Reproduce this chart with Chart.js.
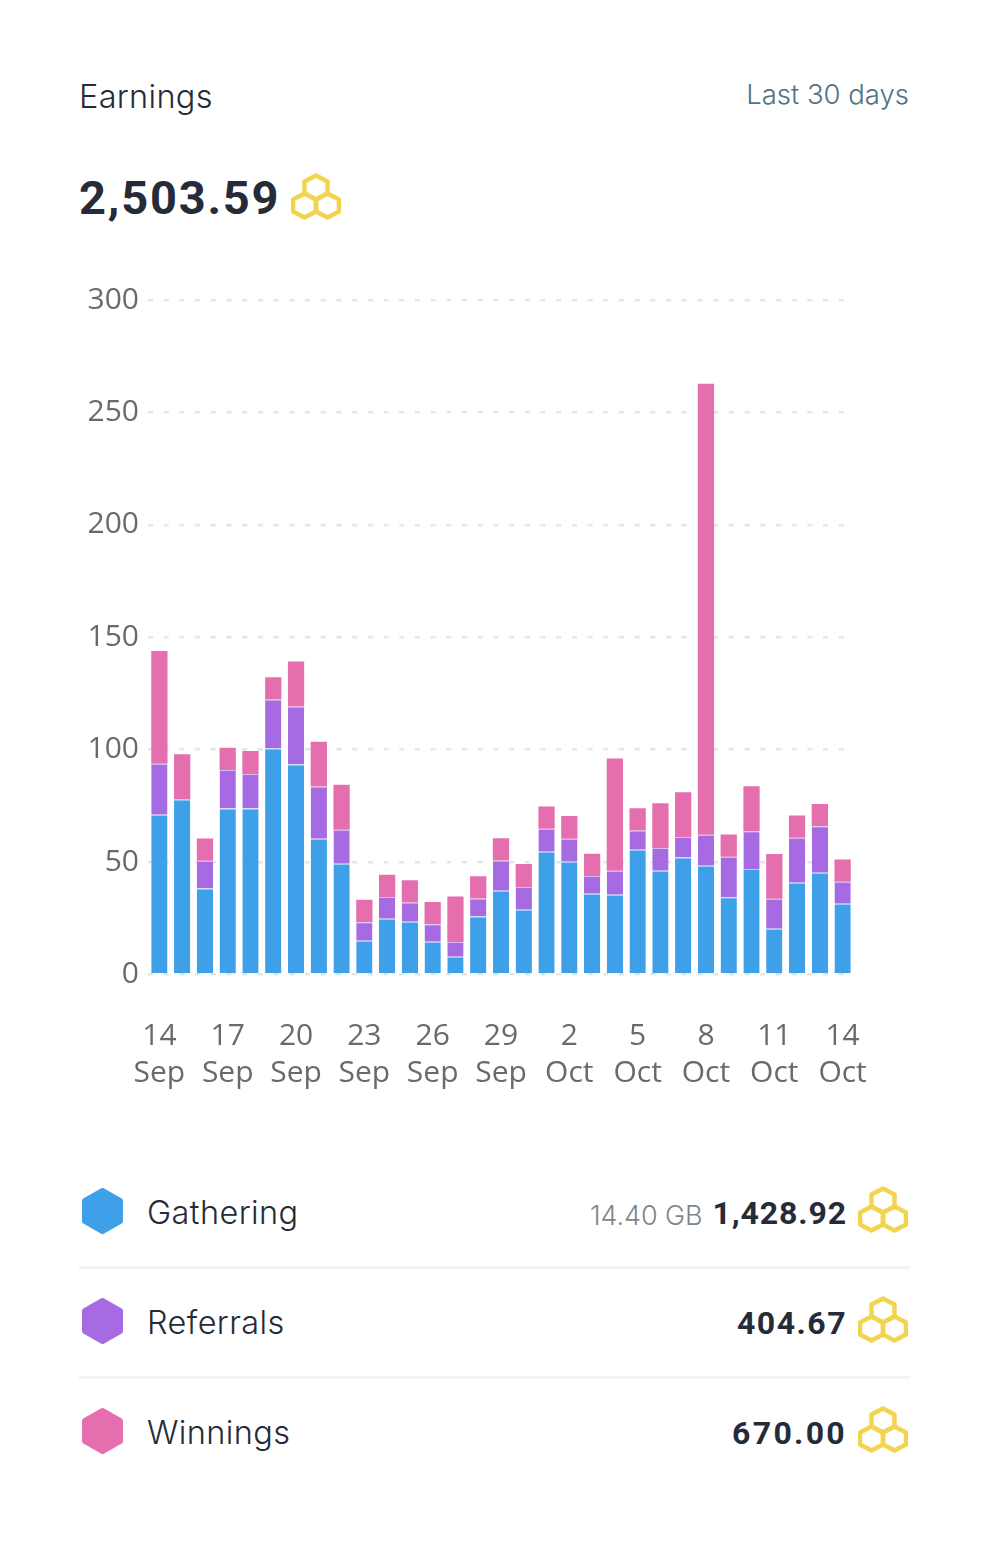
<!DOCTYPE html>
<html>
<head>
<meta charset="utf-8">
<title>Earnings</title>
<script src="https://cdn.jsdelivr.net/npm/chart.js@4"></script>
<style>
    html, body { margin: 0; padding: 0; background: #fff; }
    body { position: relative; width: 989px; height: 1557px; overflow: hidden; font-family: Inter, "Noto Sans", sans-serif; color: #252b38; }
    .txt { position: absolute; white-space: nowrap; line-height: 40px; height: 40px; }
    .num { font-family: Roboto, sans-serif; font-weight: 700; letter-spacing: 1.2px; }
    .sep { position: absolute; left: 79px; width: 830px; height: 3px; background: #eff5f6; }
    svg { position: absolute; }
    #grafica { position: absolute; left: 0; top: 270px; }
</style>
</head>
<body>
<canvas id="grafica" width="989" height="840" style="width:989px;height:840px"></canvas>
<script>
//--------Datos
const categorias = ["14 Sep", "15 Sep", "16 Sep", "17 Sep", "18 Sep", "19 Sep", "20 Sep", "21 Sep", "22 Sep", "23 Sep", "24 Sep",
    "25 Sep", "26 Sep", "27 Sep", "28 Sep", "29 Sep", "30 Sep", "1 Oct", "2 Oct", "3 Oct", "4 Oct", "5 Oct", "6 Oct", "7 Oct",
    "8 Oct", "9 Oct", "10 Oct", "11 Oct", "12 Oct", "13 Oct", "14 Oct"]
const gathering = [71.1, 77.8, 38.3, 73.8, 73.8, 100.5, 93.4, 60.4, 49.3, 15, 24.8, 23.5, 14.6, 7.9, 25.8, 37.3,
    28.8, 54.6, 50.2, 35.9, 35.5, 55.5, 46.2, 52, 48.4, 34.4, 46.9, 20.3, 40.8, 45.3, 31.5]
const referrals = [22.6, 0, 12.3, 17.2, 15.4, 21.8, 25.8, 23.2, 15.1, 8.2, 9.7, 8.5, 7.7, 6.5, 8, 13.4,
    10.1, 10.2, 10.2, 7.9, 10.7, 8.5, 10.1, 9.2, 13.8, 18, 16.8, 13.4, 20, 20.6, 9.8]
const winnings = [50.2, 20.2, 9.9, 9.9, 10.2, 9.9, 20, 19.9, 20, 10.1, 9.9, 9.9, 9.9, 20.3, 9.9, 9.9,
    10.2, 9.9, 10.1, 9.9, 49.9, 9.9, 19.9, 19.9, 200.6, 9.9, 20, 19.9, 9.9, 9.9, 9.9]
const ticksY = [0, 50, 100, 150, 200, 250, 300]

//Leyenda
const nombresSerie = ["Gathering", "Referrals", "Winnings"]
const totalesSerie = ["1,428.92", "404.67", "670.00"]
const espaciadoTotales = [0.9, 1.5, 2.3]
const coloresSerie = ["#3fa0ea", "#a66ae2", "#e56fae"]
const filasY = [1211, 1321, 1431]

//--------Vista
function añadirTexto(texto, estilo, clase) {
    const el = document.createElement("div")
    el.className = clase || "txt"
    el.textContent = texto
    el.style.cssText = estilo
    document.body.appendChild(el)
    return el
}

function hexagono(cx, cy, rx, ry) {
    return [[cx, cy - ry], [cx + rx, cy - ry / 2], [cx + rx, cy + ry / 2], [cx, cy + ry], [cx - rx, cy + ry / 2], [cx - rx, cy - ry / 2]]
        .map(p => p.join(",")).join(" ")
}

function añadirPanal(x, y) {//Icono de las tres celdas amarillas
    const centros = [[25, 14], [13.5, 32], [36.5, 32]]
    let interior = ""
    centros.forEach(c => {
        interior += '<polygon points="' + hexagono(c[0], c[1], 11.5, 12) + '" fill="none" stroke="#f3d44f" stroke-width="4.5" stroke-linejoin="round"/>'
    })
    document.body.insertAdjacentHTML("beforeend", '<svg style="left:' + x + 'px;top:' + y + 'px" width="50" height="47" viewBox="0 0 50 46">' + interior + '</svg>')
}

añadirTexto("Earnings", "left:79px;top:77px;font-size:32.5px;font-weight:300;letter-spacing:0.3px")
añadirTexto("Last 30 days", "right:80px;top:74px;font-size:27.5px;font-weight:300;color:#4f7285")
añadirTexto("2,503.59", "left:79px;top:178px;font-size:47px;line-height:40px;letter-spacing:1.8px", "txt num")
añadirPanal(291, 173)

nombresSerie.forEach((nombre, i) => {
    const y = filasY[i]
    document.body.insertAdjacentHTML("beforeend", '<svg style="left:79px;top:' + (y - 26) + 'px" width="48" height="52" viewBox="0 0 48 52"><polygon points="' +
        hexagono(23.5, 26, 18, 20.5) + '" fill="' + coloresSerie[i] + '" stroke="' + coloresSerie[i] + '" stroke-width="5" stroke-linejoin="round"/></svg>')
    añadirTexto(nombre, "left:147px;top:" + (y - 18) + "px;font-size:32.5px;font-weight:300;letter-spacing:0.4px")
    añadirTexto(totalesSerie[i], "right:142px;top:" + (y - 18) + "px;font-size:32px;letter-spacing:" + espaciadoTotales[i] + "px", "txt num")
    añadirPanal(858, y - 25)
    if (i < 2) {
        const sep = document.createElement("div")
        sep.className = "sep"
        sep.style.top = (y + 55) + "px"
        document.body.appendChild(sep)
    }
})
añadirTexto("14.40 GB", "left:590px;top:1196px;font-size:27px;font-weight:300;color:#7d868d;letter-spacing:-0.1px")

//--------Grafica
const fuenteEje = { family: "Open Sans", size: 30, weight: "400", lineHeight: 1.235 }

new Chart(document.getElementById("grafica"), {
    type: "bar",
    data: {
        labels: categorias,
        datasets: [
            { label: nombresSerie[0], data: gathering, backgroundColor: coloresSerie[0], borderColor: "#a9d6f8", borderWidth: { top: 1 }, borderSkipped: false },
            { label: nombresSerie[1], data: referrals, backgroundColor: coloresSerie[1], borderColor: "#d5b8f2", borderWidth: { top: 1 }, borderSkipped: false },
            { label: nombresSerie[2], data: winnings, backgroundColor: coloresSerie[2] }
        ]
    },
    options: {
        responsive: false,
        animation: false,
        categoryPercentage: 1,
        barPercentage: 0.715,
        layout: { padding: { top: 30, right: 135, bottom: 0, left: 0 } },
        plugins: { legend: { display: false }, tooltip: { enabled: false } },
        scales: {
            x: {
                stacked: true,
                grid: { display: false },
                border: { display: false },
                afterFit: escala => { escala.height = 135.5 },
                ticks: {
                    autoSkip: false,
                    maxRotation: 0,
                    padding: 35.5,
                    color: "#6a6a6a",
                    font: fuenteEje,
                    callback: function (valor, indice) {
                        return indice % 3 === 0 ? categorias[indice].split(" ") : ""
                    }
                }
            },
            y: {
                stacked: true,
                min: ticksY[0],
                max: ticksY[ticksY.length - 1],
                border: { display: false, dash: [5, 10.7] },
                afterFit: escala => { escala.width = 148 },
                grid: { color: "#e0e7ea", lineWidth: 2.5, tickLength: 0, drawTicks: false },
                ticks: {
                    stepSize: 50,
                    padding: 9,
                    color: "#6a6a6a",
                    font: fuenteEje
                }
            }
        }
    }
})
</script>
</body>
</html>
